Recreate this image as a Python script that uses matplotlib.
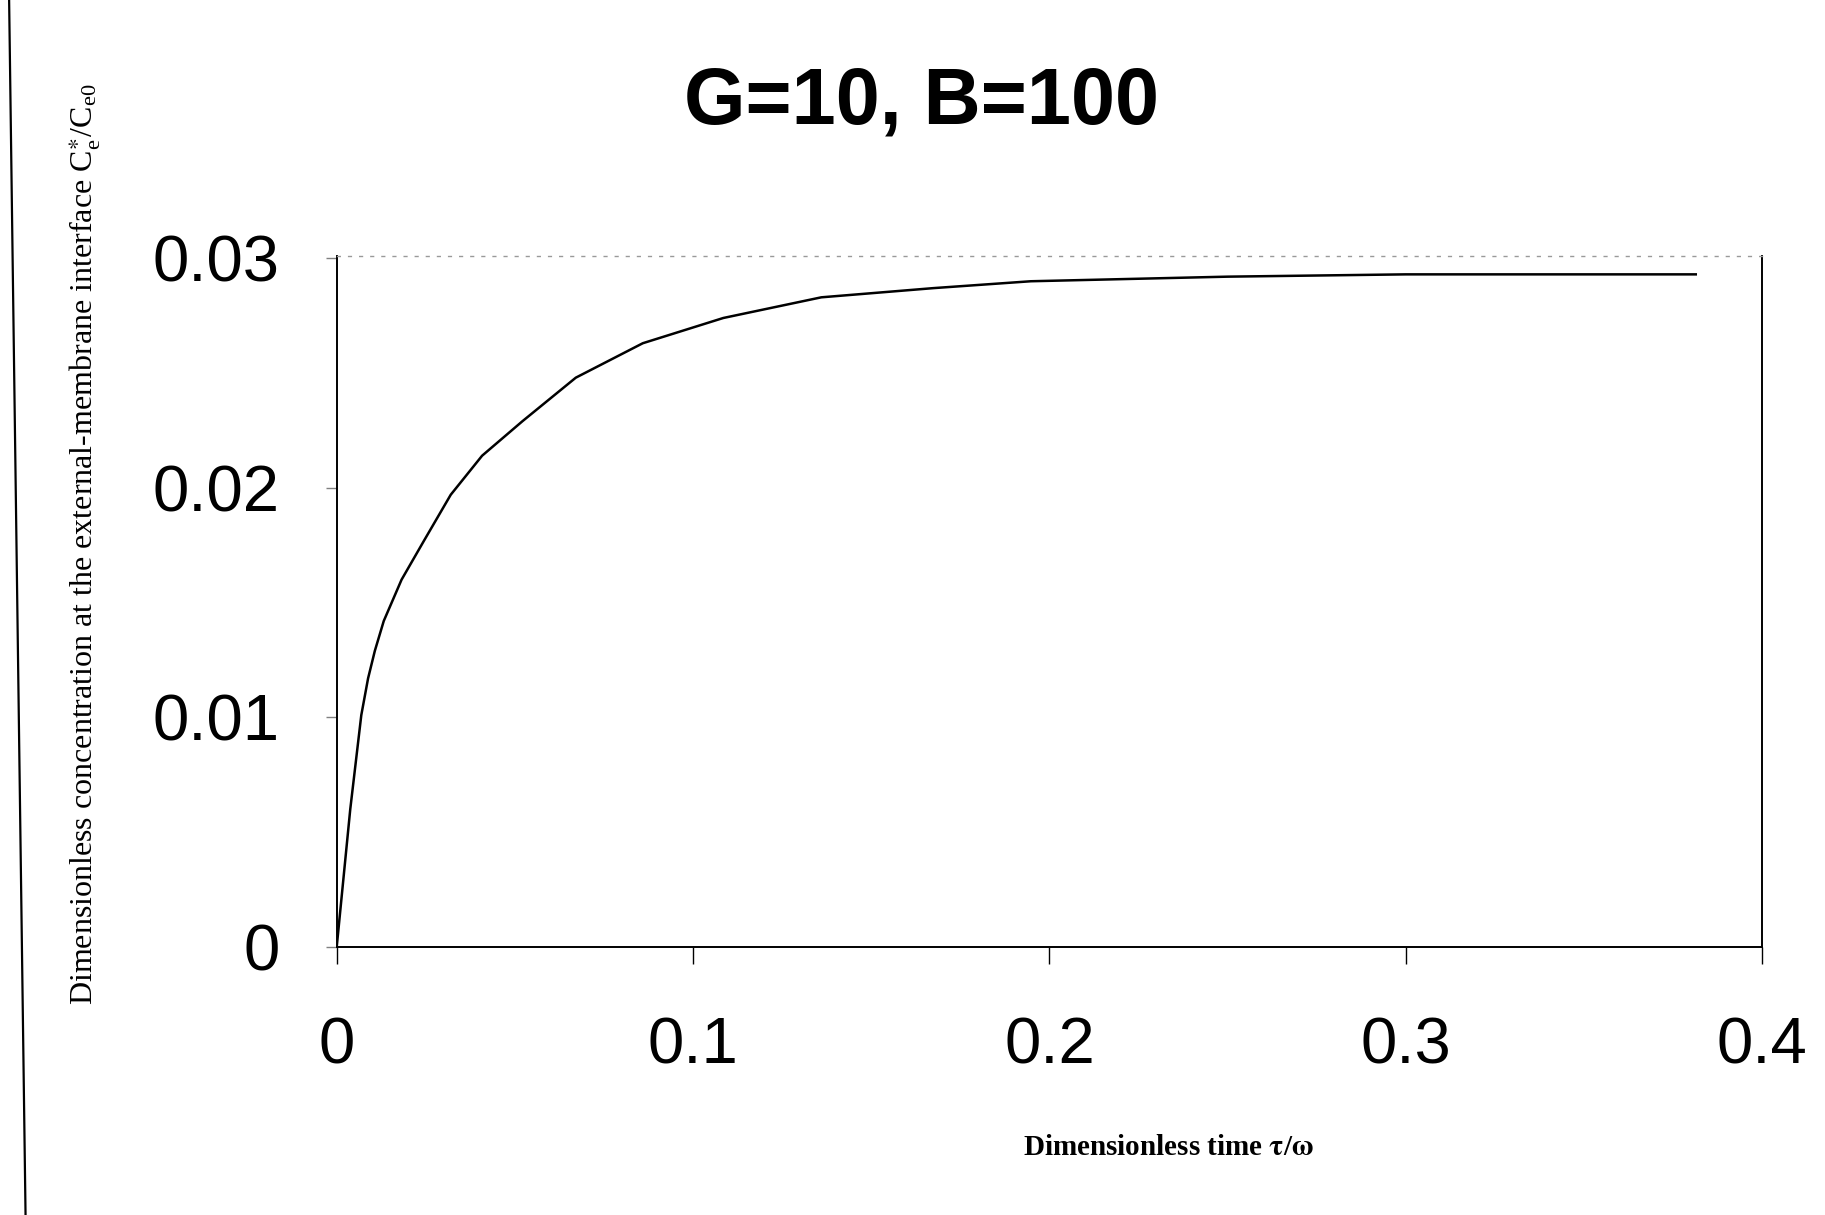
import matplotlib
matplotlib.use("Agg")
import matplotlib.pyplot as plt
from matplotlib.lines import Line2D

# values
tau = [0, 0.0038, 0.0069, 0.0088, 0.0107, 0.0132, 0.0182, 0.0245, 0.0320,
       0.0408, 0.0521, 0.0671, 0.0859, 0.1085, 0.1360, 0.1674, 0.1948,
       0.2500, 0.3000, 0.3814]
conc = [0, 0.0060, 0.0101, 0.0117, 0.0129, 0.0142, 0.0160, 0.0177, 0.0197,
        0.0214, 0.0229, 0.0248, 0.0263, 0.0274, 0.0283, 0.0287, 0.0290,
        0.0292, 0.0293, 0.0293]

x_ticks = [0, 0.1, 0.2, 0.3, 0.4]
x_labels = ['0', '0.1', '0.2', '0.3', '0.4']
y_ticks = [0, 0.01, 0.02, 0.03]
y_labels = ['0', '0.01', '0.02', '0.03']

plt.rcParams['mathtext.fontset'] = 'stix'

fig = plt.figure(figsize=(18.25, 12.15), dpi=100)
ax = fig.add_axes([0.1845, 0.2206, 0.781, 0.5687])

ax.plot(tau, conc, c='black', lw=1.8, solid_joinstyle='round')

ax.set_xlim(0, 0.4)
ax.set_ylim(0, 0.0301)
ax.set_xticks(x_ticks)
ax.set_xticklabels(x_labels, fontsize=47, family='Liberation Sans')
ax.set_yticks(y_ticks)
ax.set_yticklabels(y_labels, fontsize=47, family='Liberation Sans')
ax.tick_params(axis='x', direction='out', length=12, width=1, pad=38)
ax.tick_params(axis='y', direction='out', length=8, width=1, color='gray', pad=33)

for s in ['left', 'bottom', 'right']:
    ax.spines[s].set_linewidth(1.4)
ax.spines['top'].set_linestyle((0, (2, 6)))
ax.spines['top'].set_color('0.6')
ax.spines['top'].set_linewidth(1)

fig.text(0.505, 0.915, 'G=10, B=100', ha='center', va='center',
         fontsize=57, fontweight='bold', family='Liberation Sans')

fig.text(0.0466, 0.552,
         r'Dimensionless concentration at the external-membrane interface '
         r'C$_\mathregular{e}^{\ast}$/C$_\mathregular{e0}$',
         rotation=90, ha='center', va='center', fontsize=23,
         family='Liberation Serif')

fig.text(0.64, 0.0556, r'Dimensionless time $\mathbf{\tau}$/$\mathbf{\omega}$',
         ha='center', va='center', fontsize=21, fontweight='bold',
         family='Liberation Serif')

# scan border on the left edge
fig.add_artist(Line2D([0.005, 0.014], [1.0, 0.0], transform=fig.transFigure,
                      color='black', lw=1.6))

fig.savefig('out.png', dpi=100, facecolor='white')
